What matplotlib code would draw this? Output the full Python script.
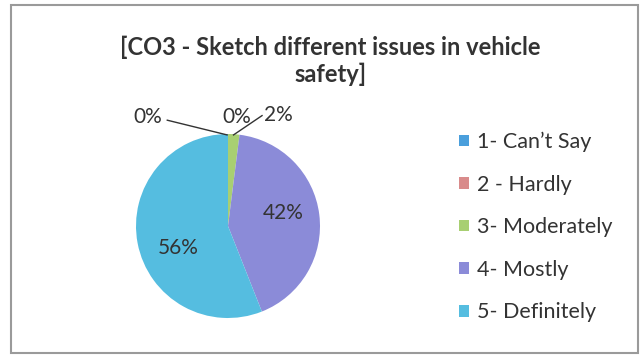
import matplotlib
matplotlib.use("Agg")
from matplotlib import pyplot as plt
from matplotlib.patches import Rectangle

labels = ["1- Can\u2019t Say", "2 - Hardly", "3- Moderately", "4- Mostly", "5- Definitely"]
values = [0, 0, 2, 42, 56]
colors = ["#4a9fdc", "#d98b8b", "#a8cf72", "#8b8bd8", "#55bde0"]
pct_text = ["0%", "0%", "2%", "42%", "56%"]

fig = plt.figure(figsize=(6.42, 3.58), dpi=100)
fig.patches.append(Rectangle((11 / 642, 5 / 358), 627 / 642, 348 / 358,
                             transform=fig.transFigure, fill=False,
                             edgecolor="#9a9a9a", linewidth=1.5))

fig.text(0.515, 1 - 61 / 358, "[CO3 - Sketch different issues in vehicle\nsafety]",
         ha="center", va="center", fontsize=17, fontweight="bold",
         family="Lato", color="#333333", linespacing=1.22)

ax = fig.add_axes([(228 - 92) / 642, (358 - 226 - 92) / 358, 184 / 642, 184 / 358])
wedges, _ = ax.pie(values, colors=colors, startangle=90, counterclock=False,
                   radius=1.0, wedgeprops=dict(linewidth=0))
ax.set_xlim(-1, 1)
ax.set_ylim(-1, 1)
ax.set_aspect("equal")
ax.axis("off")

# label positions (data coords) and leader lines
pos = [(-0.87, 1.18), (0.09, 1.18), (0.55, 1.21), (0.60, 0.14), (-0.54, -0.24)]
for t, (x, y) in zip(pct_text, pos):
    ax.text(x, y, t, ha="center", va="center", fontsize=15, family="Lato",
            color="#333333", clip_on=False)
ax.plot([-0.66, -0.01], [1.15, 0.99], color="#333333", linewidth=1, clip_on=False)
ax.plot([0.37, 0.06], [1.2, 0.99], color="#333333", linewidth=1, clip_on=False)

fig.legend(wedges, labels, loc="center left", bbox_to_anchor=(440 / 642, 1 - 227 / 358),
           frameon=False, prop={"family": "Lato", "size": 15.5},
           handlelength=0.45, handleheight=0.45, handletextpad=0.35,
           labelspacing=1.05, labelcolor="#333333")

fig.savefig("out.png", dpi=100)
